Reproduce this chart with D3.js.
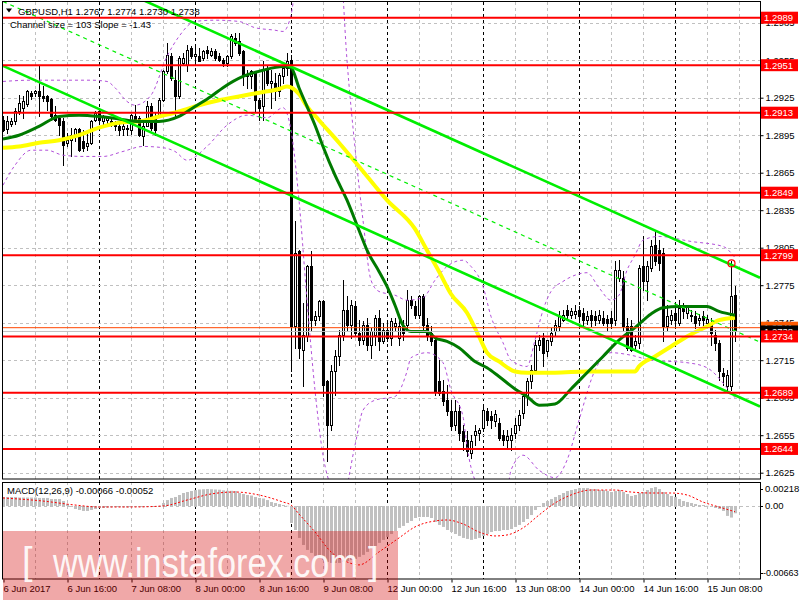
<!DOCTYPE html>
<html><head><meta charset="utf-8">
<script src="https://cdn.jsdelivr.net/npm/d3@7/dist/d3.min.js"></script>
<style>
html,body{margin:0;padding:0;background:#fff;}
svg{display:block;}
text{font-family:"Liberation Sans",Arial,sans-serif;}
</style></head><body>
<svg id="chart" width="800" height="600"></svg>
<script>
const symbol = "GBPUSD,H1";
const opens = [1.2907,1.2900,1.2904,1.2906,1.2914,1.2917,1.2920,1.2929,1.2929,1.2930,1.2926,1.2926,1.2924,1.2911,1.2909,1.2906,1.2889,1.2891,1.2894,1.2900,1.2890,1.2886,1.2889,1.2907,1.2914,1.2906,1.2907,1.2906,1.2905,1.2902,1.2900,1.2900,1.2899,1.2910,1.2909,1.2894,1.2902,1.2918,1.2909,1.2911,1.2923,1.2946,1.2958,1.2939,1.2926,1.2953,1.2951,1.2965,1.2958,1.2958,1.2957,1.2963,1.2959,1.2962,1.2958,1.2955,1.2953,1.2958,1.2973,1.2970,1.2962,1.2943,1.2942,1.2945,1.2923,1.2918,1.2949,1.2937,1.2937,1.2930,1.2942,1.2949,1.2955,1.2742,1.2802,1.2723,1.2734,1.2790,1.2747,1.2750,1.2762,1.2698,1.2663,1.2706,1.2718,1.2735,1.2755,1.2743,1.2758,1.2737,1.2731,1.2743,1.2727,1.2735,1.2749,1.2730,1.2739,1.2733,1.2742,1.2733,1.2742,1.2743,1.2763,1.2758,1.2751,1.2766,1.2743,1.2737,1.2731,1.2698,1.2690,1.2683,1.2674,1.2663,1.2674,1.2658,1.2651,1.2641,1.2655,1.2657,1.2661,1.2674,1.2670,1.2666,1.2665,1.2655,1.2651,1.2651,1.2657,1.2663,1.2673,1.2686,1.2698,1.2707,1.2727,1.2733,1.2722,1.2730,1.2738,1.2742,1.2747,1.2755,1.2751,1.2752,1.2755,1.2753,1.2747,1.2751,1.2750,1.2747,1.2749,1.2748,1.2749,1.2747,1.2781,1.2781,1.2742,1.2742,1.2727,1.2729,1.2790,1.2778,1.2789,1.2807,1.2803,1.2801,1.2742,1.2747,1.2753,1.2745,1.2758,1.2753,1.2751,1.2750,1.2747,1.2750,1.2745,1.2745,1.2735,1.2729,1.2705,1.2694,1.2694,1.2767];
const highs = [1.2910,1.2910,1.2909,1.2917,1.2927,1.2926,1.2931,1.2930,1.2931,1.2950,1.2934,1.2927,1.2925,1.2918,1.2911,1.2909,1.2897,1.2901,1.2901,1.2901,1.2899,1.2897,1.2907,1.2914,1.2915,1.2911,1.2910,1.2908,1.2906,1.2904,1.2904,1.2903,1.2912,1.2919,1.2910,1.2905,1.2922,1.2921,1.2913,1.2925,1.2947,1.2969,1.2961,1.2947,1.2958,1.2961,1.2967,1.2966,1.2968,1.2965,1.2963,1.2966,1.2965,1.2964,1.2961,1.2957,1.2959,1.2976,1.2977,1.2977,1.2963,1.2947,1.2947,1.2946,1.2925,1.2954,1.2950,1.2947,1.2945,1.2945,1.2951,1.2961,1.2959,1.2826,1.2803,1.2761,1.2791,1.2802,1.2754,1.2763,1.2763,1.2699,1.2711,1.2723,1.2739,1.2779,1.2766,1.2763,1.2762,1.2747,1.2746,1.2749,1.2741,1.2751,1.2755,1.2745,1.2746,1.2749,1.2749,1.2749,1.2747,1.2771,1.2766,1.2762,1.2767,1.2768,1.2749,1.2742,1.2734,1.2715,1.2699,1.2695,1.2683,1.2683,1.2679,1.2663,1.2658,1.2655,1.2663,1.2661,1.2679,1.2677,1.2674,1.2675,1.2669,1.2659,1.2659,1.2661,1.2669,1.2675,1.2689,1.2701,1.2711,1.2731,1.2735,1.2737,1.2731,1.2741,1.2747,1.2754,1.2755,1.2759,1.2757,1.2759,1.2758,1.2757,1.2754,1.2755,1.2754,1.2755,1.2754,1.2751,1.2754,1.2794,1.2795,1.2786,1.2749,1.2747,1.2735,1.2791,1.2814,1.2794,1.2811,1.2818,1.2811,1.2805,1.2759,1.2755,1.2757,1.2763,1.2761,1.2759,1.2755,1.2754,1.2752,1.2754,1.2751,1.2749,1.2739,1.2731,1.2709,1.2707,1.2794,1.2774];
const lows = [1.2898,1.2897,1.2902,1.2904,1.2912,1.2909,1.2918,1.2924,1.2926,1.2910,1.2922,1.2915,1.2907,1.2906,1.2895,1.2871,1.2886,1.2878,1.2890,1.2882,1.2882,1.2883,1.2888,1.2906,1.2906,1.2904,1.2905,1.2902,1.2899,1.2895,1.2895,1.2895,1.2896,1.2906,1.2894,1.2887,1.2902,1.2899,1.2895,1.2910,1.2922,1.2945,1.2939,1.2910,1.2925,1.2951,1.2946,1.2957,1.2954,1.2954,1.2955,1.2957,1.2958,1.2955,1.2954,1.2950,1.2950,1.2957,1.2967,1.2959,1.2935,1.2933,1.2933,1.2914,1.2907,1.2907,1.2935,1.2917,1.2923,1.2926,1.2937,1.2943,1.2706,1.2725,1.2717,1.2694,1.2730,1.2739,1.2743,1.2747,1.2686,1.2634,1.2659,1.2687,1.2711,1.2731,1.2739,1.2733,1.2735,1.2727,1.2728,1.2723,1.2717,1.2727,1.2723,1.2729,1.2730,1.2727,1.2739,1.2727,1.2731,1.2739,1.2757,1.2749,1.2749,1.2739,1.2731,1.2727,1.2687,1.2687,1.2679,1.2671,1.2659,1.2659,1.2651,1.2643,1.2638,1.2637,1.2647,1.2651,1.2658,1.2663,1.2661,1.2662,1.2651,1.2647,1.2645,1.2643,1.2653,1.2659,1.2669,1.2679,1.2693,1.2706,1.2723,1.2710,1.2718,1.2727,1.2734,1.2739,1.2746,1.2749,1.2749,1.2749,1.2747,1.2743,1.2744,1.2742,1.2743,1.2745,1.2743,1.2738,1.2741,1.2743,1.2778,1.2739,1.2723,1.2722,1.2723,1.2725,1.2771,1.2763,1.2786,1.2791,1.2787,1.2730,1.2739,1.2744,1.2743,1.2743,1.2749,1.2749,1.2746,1.2741,1.2743,1.2742,1.2743,1.2727,1.2723,1.2699,1.2695,1.2690,1.2691,1.2730];
const closes = [1.2899,1.2906,1.2906,1.2914,1.2921,1.2922,1.2930,1.2926,1.2930,1.2926,1.2925,1.2922,1.2910,1.2907,1.2903,1.2887,1.2891,1.2895,1.2900,1.2883,1.2885,1.2889,1.2906,1.2913,1.2907,1.2910,1.2909,1.2903,1.2902,1.2899,1.2902,1.2901,1.2911,1.2907,1.2895,1.2902,1.2918,1.2901,1.2899,1.2923,1.2946,1.2959,1.2941,1.2926,1.2957,1.2957,1.2963,1.2958,1.2960,1.2954,1.2962,1.2961,1.2962,1.2957,1.2955,1.2953,1.2958,1.2974,1.2969,1.2961,1.2942,1.2942,1.2946,1.2923,1.2917,1.2947,1.2937,1.2938,1.2930,1.2943,1.2949,1.2954,1.2742,1.2801,1.2725,1.2735,1.2790,1.2747,1.2750,1.2762,1.2695,1.2663,1.2706,1.2718,1.2735,1.2755,1.2743,1.2759,1.2737,1.2731,1.2743,1.2727,1.2738,1.2749,1.2730,1.2739,1.2733,1.2746,1.2745,1.2742,1.2737,1.2763,1.2759,1.2751,1.2766,1.2743,1.2735,1.2730,1.2690,1.2689,1.2682,1.2674,1.2662,1.2674,1.2657,1.2650,1.2642,1.2650,1.2658,1.2659,1.2675,1.2667,1.2667,1.2672,1.2653,1.2651,1.2654,1.2655,1.2663,1.2671,1.2686,1.2698,1.2707,1.2727,1.2731,1.2721,1.2731,1.2737,1.2743,1.2750,1.2751,1.2751,1.2754,1.2754,1.2750,1.2747,1.2750,1.2747,1.2747,1.2751,1.2745,1.2745,1.2745,1.2787,1.2787,1.2742,1.2725,1.2723,1.2730,1.2789,1.2778,1.2790,1.2806,1.2794,1.2793,1.2742,1.2750,1.2751,1.2747,1.2757,1.2754,1.2758,1.2750,1.2745,1.2749,1.2747,1.2748,1.2737,1.2729,1.2706,1.2702,1.2703,1.2766,1.2738];

const timeLabels = ["6 Jun 2017","6 Jun 16:00","7 Jun 08:00","8 Jun 00:00","8 Jun 16:00","9 Jun 08:00","12 Jun 00:00","12 Jun 16:00","13 Jun 08:00","14 Jun 00:00","14 Jun 16:00","15 Jun 08:00"];
const timeLabelBars = [0,16,32,48,64,80,96,112,128,144,160,176];
const priceTicks = [1.2625,1.2655,1.2685,1.2715,1.2745,1.2775,1.2805,1.2835,1.2865,1.2895,1.2925,1.2955,1.2985];
const levels = [1.2989,1.2951,1.2913,1.2849,1.2799,1.2734,1.2689,1.2644];
const askPrice = 1.2741;
const bidPrice = 1.2738;

const maFastBars = [0,4,9,14,19,24,29,34,39,44,48,52,55,60,65,70,72,74,76,78,80,83,86,89,91,94,96,98,100,102,106,108,111,114,118,121,124,128,131,134,138,142,146,150,154,158,162,165,169,176,179,183];
const maFastVals = [1.2892,1.2895,1.2902,1.2910,1.2911,1.2910,1.2908,1.2906,1.2906,1.2910,1.2918,1.2926,1.2933,1.2942,1.2947,1.2950,1.2949,1.2933,1.2918,1.2903,1.2886,1.2863,1.2843,1.2819,1.2803,1.2786,1.2774,1.2759,1.2743,1.2738,1.2738,1.2733,1.2730,1.2725,1.2714,1.2709,1.2702,1.2692,1.2686,1.2679,1.2680,1.2692,1.2705,1.2718,1.2731,1.2741,1.2752,1.2757,1.2758,1.2758,1.2754,1.2751];
const maSlowBars = [0,4,9,14,19,24,29,34,39,44,49,54,59,64,69,71,74,76,79,84,89,96,103,106,109,112,116,119,121,124,128,131,138,146,158,159,163,167,171,176,179,183];
const maSlowVals = [1.2885,1.2886,1.2889,1.2891,1.2895,1.2901,1.2905,1.2906,1.2910,1.2914,1.2919,1.2923,1.2926,1.2929,1.2932,1.2934,1.2928,1.2918,1.2907,1.2889,1.2870,1.2843,1.2820,1.2803,1.2786,1.2768,1.2753,1.2734,1.2721,1.2714,1.2706,1.2705,1.2705,1.2706,1.2706,1.2710,1.2718,1.2726,1.2734,1.2742,1.2747,1.2749];
const bbUpperBars = [0,7,14,22,26,28,31,33,37,41,44,48,53,59,63,68,70,72,74,79,84,86,88,90,92,94,98,101,105,108,111,115,117,120,122,125,127,131,133,135,137,140,143,146,149,152,154,156,158,160,164,172,180,183];
const bbUpperVals = [1.2938,1.2939,1.2939,1.2939,1.2938,1.2933,1.2922,1.2919,1.2927,1.2958,1.2974,1.2986,1.2987,1.2986,1.2981,1.2979,1.2978,1.2991,1.3043,1.3100,1.3051,1.2955,1.2885,1.2827,1.2779,1.2770,1.2767,1.2763,1.2765,1.2779,1.2790,1.2795,1.2790,1.2774,1.2750,1.2729,1.2715,1.2710,1.2731,1.2755,1.2770,1.2778,1.2783,1.2785,1.2773,1.2763,1.2767,1.2787,1.2799,1.2811,1.2814,1.2810,1.2806,1.2797];
const bbLowerBars = [0,3,7,11,15,20,25,30,35,40,43,46,51,56,61,66,70,72,74,76,78,80,82,85,88,90,93,98,101,102,106,110,112,115,116,118,122,126,127,130,134,138,141,144,148,152,157,162,171,176,181,183];
const bbLowerVals = [1.2855,1.2871,1.2883,1.2883,1.2879,1.2878,1.2878,1.2882,1.2886,1.2885,1.2882,1.2875,1.2886,1.2903,1.2911,1.2909,1.2917,1.2899,1.2843,1.2763,1.2691,1.2639,1.2615,1.2607,1.2647,1.2675,1.2683,1.2686,1.2706,1.2717,1.2721,1.2713,1.2691,1.2670,1.2646,1.2619,1.2603,1.2611,1.2627,1.2639,1.2627,1.2621,1.2635,1.2667,1.2707,1.2721,1.2719,1.2715,1.2713,1.2709,1.2693,1.2685];

const channelStartBar = 0;
const channelEndBar = 189.25;
const channelMidStart = 1.3002;
const channelSlope = -0.000144;
const channelHalfWidth = 0.00515;

const macdHist = [0.00082,0.00082,0.00082,0.00082,0.00077,0.00077,0.00077,0.00077,0.00077,0.00073,0.00073,0.00073,0.00063,0.00063,0.00063,0.00045,0.00018,-0.00009,-0.00027,-0.00036,-0.00045,-0.00045,-0.00036,-0.00027,-0.00018,-0.00018,-0.00014,-0.00012,-0.0001,-0.0001,-0.00012,-0.00012,-0.00008,-0.00005,-0.00008,-0.0001,-0.00004,-0.00003,-0.00006,0.00002,0.00027,0.00054,0.00073,0.00082,0.001,0.00118,0.00127,0.00136,0.00145,0.0015,0.00152,0.00154,0.00152,0.0015,0.00148,0.00142,0.00138,0.00138,0.00136,0.00118,0.00109,0.001,0.00095,0.00082,0.00073,0.00068,0.00054,0.00036,0.00027,0.00018,0.00009,0.00002,-0.00154,-0.00218,-0.0029,-0.00354,-0.00399,-0.00426,-0.00453,-0.00471,-0.0049,-0.00508,-0.00517,-0.00517,-0.00517,-0.00508,-0.00499,-0.0049,-0.00481,-0.00462,-0.00444,-0.00417,-0.0039,-0.00363,-0.00335,-0.00308,-0.00281,-0.00254,-0.00227,-0.00199,-0.00181,-0.00154,-0.00136,-0.00109,-0.001,-0.001,-0.001,-0.00109,-0.00145,-0.00172,-0.0019,-0.00218,-0.00236,-0.00254,-0.00272,-0.0029,-0.00299,-0.00308,-0.00299,-0.0029,-0.00272,-0.00254,-0.00236,-0.00227,-0.00227,-0.00218,-0.00218,-0.00209,-0.0019,-0.00172,-0.00145,-0.00118,-0.00082,-0.00036,-0.00009,0.00027,0.00045,0.00063,0.00082,0.001,0.00118,0.00136,0.00145,0.00154,0.00163,0.00163,0.00163,0.00154,0.00154,0.00145,0.00145,0.00136,0.00127,0.00136,0.00145,0.00127,0.00109,0.00091,0.001,0.00118,0.00127,0.00145,0.00163,0.00172,0.00154,0.00127,0.00109,0.00091,0.00082,0.00063,0.00045,0.00036,0.00027,0.00018,0.00009,0.00009,0.00002,-0.00009,-0.00018,-0.00027,-0.00045,-0.0009,-0.00105,-0.00066];
const signalBars = [0,10,18,24,32,40,46,52,58,64,70,72,74,78,82,86,89,94,99,103,108,111,115,119,123,126,130,134,138,142,147,153,157,162,167,171,175,179,183];
const signalVals = [0.00073,0.00045,0.00009,-0.00009,-0.00009,0,0.00054,0.00109,0.00127,0.001,0.00036,0.00009,-0.00073,-0.00236,-0.00417,-0.00508,-0.00535,-0.00417,-0.0029,-0.0019,-0.00136,-0.00127,-0.00163,-0.00236,-0.00272,-0.00263,-0.00199,-0.00082,0.00027,0.001,0.00145,0.00145,0.00127,0.00118,0.00118,0.001,0.00036,-0.00009,-0.00052];
const macdMax = 0.00218, macdMin = -0.00663;
const channelInfo = "Channel size = 103 Slope = -1.43";
const watermark = "www.instaforex.com";

// ---------- drawing ----------
const svg = d3.select("#chart");
const L = 2, R = 760, T = 2, B = 479, MT = 482, MB = 579;
const n = closes.length;
const x = d3.scaleLinear().domain([0, n - 1]).range([3, 3 + 4 * (n - 1)]);
const y = d3.scaleLinear().domain([1.261996, 1.300156]).range([B, T]);
const ym = d3.scaleLinear().domain([macdMin, macdMax]).range([MB, MT]);
const FONT = "9.5px";

const defs = svg.append("defs");
defs.append("clipPath").attr("id", "cm").append("rect").attr("x", L).attr("y", T).attr("width", R - L).attr("height", B - T);
defs.append("clipPath").attr("id", "cd").append("rect").attr("x", L).attr("y", MT).attr("width", R - L).attr("height", MB - MT);
const gMain = svg.append("g").attr("clip-path", "url(#cm)");
const gMacd = svg.append("g").attr("clip-path", "url(#cd)");

// grid
const vBars = d3.range(8, n + 1, 8);
[[gMain, T, B], [gMacd, MT, MB]].forEach(([g, t, b]) => {
  g.append("g").selectAll("line").data(vBars).join("line")
    .attr("x1", d => x(d) + 0.5).attr("x2", d => x(d) + 0.5).attr("y1", t).attr("y2", b)
    .attr("stroke", d => d % 24 === 0 ? "#000" : "#c0c0c0").attr("stroke-dasharray", "3,3");
});
gMain.append("g").selectAll("line").data(priceTicks).join("line")
  .attr("x1", L).attr("x2", R)
  .attr("y1", d => Math.round(y(d)) + 0.5).attr("y2", d => Math.round(y(d)) + 0.5)
  .attr("stroke", "#c0c0c0").attr("stroke-dasharray", "3,3");
gMacd.append("line").attr("x1", L).attr("x2", R)
  .attr("y1", Math.round(ym(0)) + 0.5).attr("y2", Math.round(ym(0)) + 0.5)
  .attr("stroke", "#c0c0c0").attr("stroke-dasharray", "3,3");

// candles
const bars = d3.range(n).map(i => ({ i, o: opens[i], h: highs[i], l: lows[i], c: closes[i] }));
const gC = gMain.append("g");
gC.selectAll("line").data(bars).join("line")
  .attr("x1", d => x(d.i) + 0.5).attr("x2", d => x(d.i) + 0.5)
  .attr("y1", d => Math.round(y(d.h))).attr("y2", d => Math.round(y(d.l)) + 1)
  .attr("stroke", "#000");
gC.selectAll("rect").data(bars).join("rect").each(function (d) {
  const top = Math.round(y(Math.max(d.o, d.c))), bot = Math.round(y(Math.min(d.o, d.c)));
  const s = d3.select(this);
  if (d.c >= d.o) {
    s.attr("x", x(d.i) - 0.5).attr("y", top + 0.5).attr("width", 2).attr("height", Math.max(bot - top, 0))
      .attr("fill", "#fff").attr("stroke", "#000");
  } else {
    s.attr("x", x(d.i) - 1).attr("y", top).attr("width", 3).attr("height", Math.max(bot - top, 1) + 1).attr("fill", "#000");
  }
});

// indicators
const line = d3.line().x(d => x(d[0])).y(d => y(d[1])).curve(d3.curveMonotoneX);
const pts = (bs, vs) => bs.map((b, i) => [b, vs[i]]);
gMain.append("path").attr("d", line(pts(bbUpperBars, bbUpperVals))).attr("fill", "none")
  .attr("stroke", "#b14fd9").attr("stroke-width", 1).attr("stroke-dasharray", "3,3");
gMain.append("path").attr("d", line(pts(bbLowerBars, bbLowerVals))).attr("fill", "none")
  .attr("stroke", "#b14fd9").attr("stroke-width", 1).attr("stroke-dasharray", "3,3");
gMain.append("path").attr("d", line(pts(maSlowBars, maSlowVals))).attr("fill", "none")
  .attr("stroke", "#ffff00").attr("stroke-width", 4);
gMain.append("path").attr("d", line(pts(maFastBars, maFastVals))).attr("fill", "none")
  .attr("stroke", "#007a00").attr("stroke-width", 3);

// regression channel
const chan = [-1, 0, 1].map(k => ({
  k,
  p0: channelMidStart + k * channelHalfWidth + channelSlope * channelStartBar,
  p1: channelMidStart + k * channelHalfWidth + channelSlope * channelEndBar
}));
gMain.append("g").selectAll("line").data(chan).join("line")
  .attr("x1", x(channelStartBar)).attr("x2", x(channelEndBar))
  .attr("y1", d => y(d.p0)).attr("y2", d => y(d.p1))
  .attr("stroke", "#00ee00")
  .attr("stroke-width", d => d.k === 0 ? 1.2 : 2.6)
  .attr("stroke-dasharray", d => d.k === 0 ? "4,4" : null);

// price lines
gMain.append("line").attr("x1", L).attr("x2", R).attr("y1", y(bidPrice)).attr("y2", y(bidPrice)).attr("stroke", "#c0c0c0");
gMain.append("line").attr("x1", L).attr("x2", R).attr("y1", y(askPrice)).attr("y2", y(askPrice)).attr("stroke", "#ff4500");
gMain.append("g").selectAll("line").data(levels).join("line")
  .attr("x1", L).attr("x2", R).attr("y1", d => y(d)).attr("y2", d => y(d))
  .attr("stroke", "#ff0000").attr("stroke-width", 2);
gMain.append("circle").attr("cx", x(182) + 0.5).attr("cy", y(highs[182]) + 2).attr("r", 3.5)
  .attr("fill", "none").attr("stroke", "#ff0000").attr("stroke-width", 1.2);

// MACD
gMacd.append("g").selectAll("rect").data(macdHist).join("rect")
  .attr("x", (d, i) => x(i) - 1).attr("width", 3)
  .attr("y", d => ym(Math.max(d, 0))).attr("height", d => Math.max(Math.abs(ym(d) - ym(0)), 0.5))
  .attr("fill", "#c0c0c0");
gMacd.append("path").attr("d", d3.line().x(d => x(d[0])).y(d => ym(d[1])).curve(d3.curveMonotoneX)(pts(signalBars, signalVals)))
  .attr("fill", "none").attr("stroke", "#ff0000").attr("stroke-width", 1).attr("stroke-dasharray", "2,2");

// borders
svg.append("rect").attr("x", L + 0.5).attr("y", T - 0.5).attr("width", R - L).attr("height", B - T + 0.5)
  .attr("fill", "none").attr("stroke", "#000");
svg.append("rect").attr("x", L + 0.5).attr("y", MT + 0.5).attr("width", R - L).attr("height", MB - MT - 0.5)
  .attr("fill", "none").attr("stroke", "#000");

// price axis
const yAxis = d3.axisRight(y).tickValues(priceTicks).tickFormat(d => d.toFixed(4)).tickSize(3).tickSizeOuter(0).tickPadding(2);
const gya = svg.append("g").attr("transform", `translate(${R + 0.5},0)`).call(yAxis);
gya.select(".domain").remove();
gya.selectAll("text").attr("font-family", "Liberation Sans, Arial, sans-serif").attr("font-size", FONT).attr("fill", "#000");

// last price labels
const priceLabel = (p, fill) => {
  const g = svg.append("g");
  g.append("rect").attr("x", R + 1).attr("y", y(p) - 6).attr("width", 37).attr("height", 12).attr("fill", fill);
  g.append("text").attr("x", R + 4).attr("y", y(p)).attr("dy", "0.35em").attr("font-size", FONT).attr("fill", "#fff").text(p.toFixed(4));
};
priceLabel(askPrice, "#ff5a00");
priceLabel(bidPrice, "#000");
levels.forEach(p => priceLabel(p, "#ff0000"));

// macd axis labels
[[macdMax, ym(macdMax) + 7], [0, ym(0)], [macdMin, ym(macdMin) - 6]].forEach(([v, py]) => {
  svg.append("line").attr("x1", R).attr("x2", R + 3).attr("y1", Math.round(py) + 0.5).attr("y2", Math.round(py) + 0.5).attr("stroke", "#000");
  svg.append("text").attr("x", v < 0 ? R + 3 : R + 5).attr("y", py).attr("dy", "0.35em")
    .attr("font-size", v < 0 ? "9px" : FONT)
    .text(v === 0 ? "0.00" : v.toFixed(5));
});

// time axis
const xAxis = d3.axisBottom(x).tickValues(timeLabelBars).tickFormat((d, i) => timeLabels[i]).tickSize(3).tickSizeOuter(0).tickPadding(3);
const gxa = svg.append("g").attr("transform", `translate(0.5,${MB + 0.5})`).call(xAxis);
gxa.select(".domain").remove();
gxa.selectAll("text").attr("text-anchor", "start").attr("x", -0.5).attr("font-family", "Liberation Sans, Arial, sans-serif").attr("font-size", FONT).attr("fill", "#000");

// titles
svg.append("path").attr("d", "M6,8.5 L12,8.5 L9,12.5 Z").attr("fill", "#000");
svg.append("text").attr("x", 18).attr("y", 14.5).attr("font-size", FONT)
  .text(`${symbol} ${opens[n - 1].toFixed(4)} ${highs[n - 1].toFixed(4)} ${lows[n - 1].toFixed(4)} ${closes[n - 1].toFixed(4)}`);
svg.append("text").attr("x", 10).attr("y", 27.5).attr("font-size", FONT).text(channelInfo);
svg.append("text").attr("x", 7).attr("y", 494).attr("font-size", FONT)
  .text(`MACD(12,26,9) ${macdHist[n - 1].toFixed(5)} ${signalVals[signalVals.length - 1].toFixed(5)}`);

// watermark
const wm = svg.append("g");
wm.append("rect").attr("x", 3).attr("y", 531).attr("width", 395).attr("height", 69).attr("fill", "rgba(210,0,0,0.34)");
wm.append("text").attr("x", 22).attr("y", 574).attr("font-size", "38px").attr("fill", "#fff").attr("fill-opacity", 0.92).text("[");
wm.append("text").attr("x", 53).attr("y", 577).attr("font-size", "40px").attr("fill", "#fff").attr("fill-opacity", 0.92)
  .attr("textLength", 305).attr("lengthAdjust", "spacingAndGlyphs").text(watermark);
wm.append("text").attr("x", 368).attr("y", 574).attr("font-size", "38px").attr("fill", "#fff").attr("fill-opacity", 0.92).text("]");
</script>
</body></html>
